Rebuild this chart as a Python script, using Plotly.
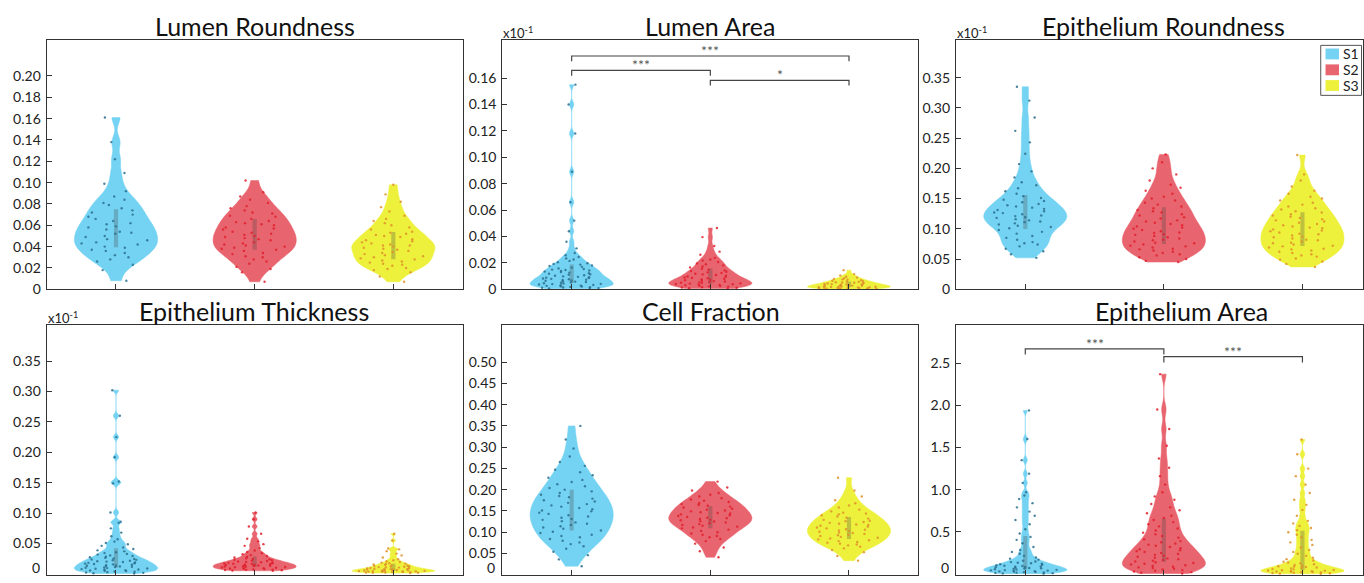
import plotly.graph_objects as go

# ---------------- data ----------------
SERIES = ["S1", "S2", "S3"]
POSITIONS = [1, 2, 3]
FILL_COLORS = ["#74D3F2", "#E8646E", "#EDF13C"]
DOT_COLORS = ["#2C6E8E", "#E01F2C", "#E0902A"]

PANEL_TITLES = ["Lumen Roundness", "Lumen Area", "Epithelium Roundness",
                "Epithelium Thickness", "Cell Fraction", "Epithelium Area"]

# Lumen Roundness
LR_S1 = [0.008, 0.018, 0.023, 0.026, 0.028, 0.030, 0.032, 0.034,
         0.036, 0.037, 0.039, 0.040, 0.042, 0.043, 0.044,
         0.046, 0.047, 0.049, 0.050, 0.052, 0.053, 0.054,
         0.056, 0.058, 0.059, 0.061, 0.062, 0.064,
         0.066, 0.068, 0.070, 0.072, 0.074, 0.076, 0.079, 0.081, 0.084,
         0.087, 0.092, 0.099, 0.109, 0.122, 0.138, 0.161]
LR_S2 = [0.007, 0.016, 0.019, 0.021, 0.024, 0.026, 0.028, 0.030, 0.031, 0.033, 0.034,
         0.036, 0.037, 0.038, 0.039, 0.040, 0.041, 0.042, 0.043, 0.044,
         0.046, 0.047, 0.048, 0.049, 0.050, 0.051, 0.052, 0.053, 0.054,
         0.056, 0.057, 0.058, 0.060, 0.061, 0.062, 0.063, 0.064,
         0.066, 0.068, 0.069, 0.071, 0.072, 0.074,
         0.076, 0.078, 0.081, 0.084, 0.087, 0.091, 0.102]
LR_S3 = [0.007, 0.012, 0.016, 0.018, 0.019, 0.020, 0.022, 0.023, 0.024,
         0.025, 0.026, 0.027, 0.028, 0.029, 0.030, 0.031, 0.032, 0.033, 0.034, 0.035,
         0.036, 0.037, 0.038, 0.039, 0.040, 0.041, 0.041, 0.042, 0.043, 0.044, 0.045,
         0.046, 0.047, 0.049, 0.050, 0.051, 0.052, 0.053, 0.054,
         0.056, 0.058, 0.060, 0.062, 0.064, 0.066, 0.069, 0.073,
         0.077, 0.082, 0.089, 0.098]

# Lumen Area (x10^-1)
LA_S1 = [0.0004, 0.0006, 0.0009, 0.0011, 0.0014, 0.0016, 0.0018, 0.0021, 0.0023, 0.0026,
         0.0028, 0.0031, 0.0033, 0.0036, 0.0039, 0.0041, 0.0044, 0.0046, 0.0049,
         0.0052, 0.0055, 0.0058, 0.0061, 0.0064, 0.0067, 0.0070, 0.0073, 0.0076, 0.0079,
         0.0082, 0.0085, 0.0088, 0.0091, 0.0094, 0.0098,
         0.0102, 0.0106, 0.0110, 0.0114, 0.0118, 0.0122, 0.0126, 0.0130, 0.0134, 0.0138,
         0.0142, 0.0146, 0.0149,
         0.0153, 0.0158, 0.0164, 0.0170, 0.0176, 0.0181, 0.0187, 0.0192, 0.0197,
         0.0205, 0.0215, 0.0225, 0.0234, 0.0244, 0.0258, 0.0275, 0.0310,
         0.036, 0.044, 0.052, 0.066, 0.089, 0.118, 0.140, 0.155]
LA_S2 = [0.0005, 0.0008, 0.0011, 0.0013, 0.0016, 0.0019, 0.0022, 0.0024, 0.0027, 0.0030,
         0.0032, 0.0035, 0.0038, 0.0040, 0.0043, 0.0045, 0.0047, 0.0049,
         0.0052, 0.0055, 0.0059, 0.0062, 0.0065, 0.0068, 0.0072, 0.0075, 0.0079, 0.0083,
         0.0086, 0.0090, 0.0094, 0.0097,
         0.0103, 0.0108, 0.0113, 0.0118, 0.0123, 0.0128, 0.0133, 0.0138, 0.0143, 0.0148,
         0.0156, 0.0165, 0.0173, 0.0181, 0.0189, 0.0196,
         0.0207, 0.0217, 0.0226, 0.0238, 0.0262, 0.0285, 0.0328, 0.0395, 0.0464]
LA_S3 = [0.0003, 0.0004, 0.0005, 0.0006, 0.0007, 0.0008, 0.0009, 0.0010, 0.0011, 0.0012,
         0.0013, 0.0014, 0.0015, 0.0016, 0.0018, 0.0019,
         0.0021, 0.0022, 0.0024, 0.0025, 0.0027, 0.0028, 0.0030, 0.0031, 0.0033, 0.0034,
         0.0036, 0.0037, 0.0039,
         0.0041, 0.0043, 0.0045, 0.0047, 0.0049, 0.0051, 0.0054, 0.0056, 0.0058,
         0.0061, 0.0065, 0.0068, 0.0072, 0.0075, 0.0079,
         0.0083, 0.0089, 0.0095, 0.0104, 0.0115, 0.0145]

# Epithelium Roundness (x10^-1)
ER_S1 = [0.052, 0.058, 0.063, 0.067, 0.071, 0.074, 0.076, 0.078,
         0.082, 0.085, 0.088, 0.092, 0.095, 0.098,
         0.101, 0.103, 0.105, 0.107, 0.109,
         0.111, 0.112, 0.114, 0.116, 0.118, 0.119,
         0.121, 0.122, 0.124, 0.126, 0.127, 0.129,
         0.131, 0.133, 0.135, 0.137, 0.139,
         0.141, 0.144, 0.146, 0.148, 0.151, 0.154, 0.158,
         0.162, 0.167, 0.172, 0.177, 0.185, 0.195,
         0.207, 0.224, 0.243, 0.262, 0.284, 0.312, 0.335]
ER_S2 = [0.045, 0.047, 0.050, 0.053, 0.056, 0.058, 0.060, 0.062, 0.064,
         0.066, 0.067, 0.069, 0.071, 0.072, 0.074,
         0.076, 0.077, 0.079, 0.081, 0.082, 0.084,
         0.086, 0.088, 0.090, 0.091, 0.093, 0.094,
         0.096, 0.098, 0.100, 0.102, 0.104,
         0.106, 0.108, 0.110, 0.112, 0.114,
         0.117, 0.119, 0.122, 0.124, 0.127, 0.129, 0.131, 0.134,
         0.137, 0.140, 0.143, 0.147, 0.150, 0.153,
         0.158, 0.163, 0.168, 0.173, 0.180, 0.190, 0.200, 0.210, 0.223]
ER_S3 = [0.037, 0.042, 0.046, 0.049, 0.051, 0.054,
         0.056, 0.058, 0.060, 0.062, 0.064,
         0.066, 0.067, 0.069, 0.071, 0.072, 0.074,
         0.076, 0.077, 0.079, 0.081, 0.082, 0.084,
         0.086, 0.087, 0.089, 0.091, 0.092, 0.094,
         0.096, 0.097, 0.099, 0.101, 0.102, 0.104,
         0.106, 0.108, 0.110, 0.112, 0.114,
         0.116, 0.118, 0.120, 0.122, 0.124,
         0.127, 0.129, 0.132, 0.134, 0.137, 0.140, 0.143,
         0.147, 0.150, 0.153, 0.158, 0.163, 0.170, 0.180, 0.190, 0.222]

# Epithelium Thickness (x10^-1)
ET_S1 = [0.0008, 0.0012, 0.0018, 0.0024, 0.0030, 0.0036, 0.0041, 0.0047,
         0.0052, 0.0058, 0.0063, 0.0069, 0.0074, 0.0080, 0.0085, 0.0091, 0.0096,
         0.0102, 0.0107, 0.0113, 0.0118, 0.0124, 0.0129, 0.0135, 0.0140, 0.0146,
         0.0152, 0.0158, 0.0164, 0.0170, 0.0177, 0.0183, 0.0190, 0.0196,
         0.0203, 0.0210, 0.0218, 0.0225, 0.0232, 0.0239, 0.0246,
         0.0255, 0.0265, 0.0275, 0.0285, 0.0295,
         0.0305, 0.0318, 0.0330, 0.0343, 0.0358, 0.0372, 0.0388,
         0.0410, 0.0435, 0.0462, 0.0488, 0.0508, 0.0532,
         0.0570, 0.0620, 0.0680, 0.0750, 0.0840, 0.0860,
         0.101, 0.149, 0.152, 0.192, 0.225, 0.260, 0.302]
ET_S2 = [0.0052, 0.0056, 0.0060, 0.0064, 0.0068, 0.0072, 0.0076, 0.0080, 0.0084, 0.0089, 0.0094,
         0.0100, 0.0103, 0.0107, 0.0111, 0.0115, 0.0119, 0.0123, 0.0127, 0.0131, 0.0135,
         0.0139, 0.0143, 0.0147,
         0.0152, 0.0156, 0.0160, 0.0164, 0.0168, 0.0173, 0.0178, 0.0183, 0.0188, 0.0193, 0.0198,
         0.0205, 0.0212, 0.0219, 0.0226, 0.0233, 0.0240, 0.0247,
         0.0258, 0.0270, 0.0282, 0.0295, 0.0310, 0.0325, 0.0342, 0.0362, 0.0385,
         0.0425, 0.0462, 0.0490, 0.0535, 0.0580, 0.0660, 0.0780, 0.0900, 0.1010]
ET_S3 = [0.0015, 0.0018, 0.0020, 0.0023, 0.0025, 0.0028, 0.0031, 0.0034, 0.0036, 0.0039,
         0.0041, 0.0043, 0.0045, 0.0047, 0.0049, 0.0051, 0.0054, 0.0056, 0.0058, 0.0061, 0.0063,
         0.0066, 0.0069, 0.0072, 0.0074, 0.0077, 0.0080, 0.0083, 0.0086, 0.0089,
         0.0093, 0.0097, 0.0101, 0.0105, 0.0109, 0.0113,
         0.0118, 0.0123, 0.0128, 0.0133, 0.0138,
         0.0144, 0.0150, 0.0157, 0.0163, 0.0170, 0.0178, 0.0186,
         0.0197, 0.0210, 0.0225, 0.0242, 0.0270, 0.0305, 0.0335,
         0.0375, 0.0405, 0.0420, 0.0550, 0.0660]

# Cell Fraction
CF_S1 = [0.020, 0.036, 0.046, 0.054, 0.061, 0.067,
         0.072, 0.076, 0.080, 0.084, 0.088,
         0.091, 0.094, 0.098, 0.101, 0.104, 0.108,
         0.111, 0.114, 0.117, 0.120, 0.123, 0.126, 0.129,
         0.131, 0.134, 0.137, 0.140, 0.143, 0.146, 0.149,
         0.151, 0.154, 0.157, 0.160, 0.163, 0.166, 0.169,
         0.172, 0.175, 0.179, 0.182, 0.185, 0.188,
         0.192, 0.196, 0.200, 0.204, 0.208,
         0.213, 0.218, 0.223, 0.228, 0.234, 0.241, 0.247,
         0.256, 0.265, 0.278, 0.297, 0.318, 0.350]
CF_S2 = [0.041, 0.055, 0.064, 0.073, 0.079, 0.084, 0.088,
         0.091, 0.094, 0.097, 0.100, 0.103, 0.106, 0.109,
         0.111, 0.113, 0.115, 0.117, 0.119, 0.121, 0.123, 0.125, 0.126, 0.128, 0.129,
         0.131, 0.133, 0.134, 0.136, 0.138, 0.140, 0.142, 0.144, 0.145, 0.147, 0.149,
         0.151, 0.153, 0.155, 0.158, 0.160, 0.162, 0.164, 0.166, 0.168,
         0.171, 0.174, 0.177, 0.180, 0.184, 0.188, 0.192, 0.198, 0.205, 0.219]
CF_S3 = [0.033, 0.044, 0.053, 0.058, 0.062, 0.066, 0.069,
         0.071, 0.073, 0.075, 0.077, 0.079, 0.081, 0.083, 0.085, 0.087, 0.089,
         0.091, 0.093, 0.094, 0.096, 0.098, 0.099, 0.101, 0.103, 0.104, 0.106, 0.107, 0.109,
         0.111, 0.113, 0.115, 0.117, 0.118, 0.120, 0.122, 0.124, 0.126, 0.127, 0.129,
         0.132, 0.134, 0.137, 0.140, 0.142, 0.144, 0.146, 0.149,
         0.153, 0.158, 0.163, 0.168, 0.175, 0.184, 0.198, 0.228]

# Epithelium Area
EA_S1 = [0.004, 0.007, 0.010, 0.013, 0.016, 0.019, 0.022, 0.025, 0.028, 0.031,
         0.034, 0.037, 0.040, 0.043, 0.046, 0.049,
         0.053, 0.057, 0.060, 0.064, 0.068, 0.071, 0.075, 0.079, 0.082, 0.086,
         0.090, 0.094, 0.098,
         0.104, 0.110, 0.116, 0.122, 0.128, 0.134, 0.141, 0.148,
         0.158, 0.170, 0.182, 0.195, 0.215, 0.240, 0.262, 0.285,
         0.320, 0.365, 0.405, 0.440, 0.480,
         0.530, 0.590, 0.640, 0.690, 0.740, 0.790,
         0.840, 0.890, 0.930, 0.970, 1.080, 1.190, 1.350, 1.600, 1.940]
EA_S2 = [0.006, 0.014, 0.022, 0.030, 0.038, 0.046, 0.054, 0.062, 0.070, 0.078, 0.086, 0.094,
         0.104, 0.113, 0.122, 0.131, 0.140, 0.149, 0.158, 0.167, 0.176, 0.185, 0.194,
         0.205, 0.216, 0.227, 0.238, 0.249, 0.260, 0.271, 0.282, 0.293,
         0.306, 0.320, 0.334, 0.348, 0.362, 0.376, 0.390,
         0.410, 0.430, 0.450, 0.470, 0.490,
         0.515, 0.540, 0.565, 0.590, 0.615, 0.640, 0.665, 0.690,
         0.720, 0.755, 0.790, 0.830, 0.880, 0.920, 0.970,
         1.060, 1.160, 1.260, 1.370, 1.520, 1.720, 1.950, 2.370]
EA_S3 = [0.003, 0.006, 0.009, 0.012, 0.015, 0.018, 0.021, 0.024, 0.027, 0.030,
         0.033, 0.036, 0.039, 0.042, 0.045, 0.048,
         0.055, 0.060, 0.066, 0.071, 0.077, 0.082, 0.087, 0.092, 0.097,
         0.106, 0.116, 0.126, 0.136, 0.145, 0.160, 0.176, 0.192,
         0.215, 0.240, 0.262, 0.285,
         0.315, 0.345, 0.375, 0.405, 0.435,
         0.465, 0.495, 0.520, 0.545, 0.570, 0.600, 0.630,
         0.690, 0.760, 0.820, 0.880, 0.960, 1.060, 1.160, 1.250, 1.420, 1.595]

# KDE bandwidths per violin (S1, S2, S3)
LR_BW = [0.006, 0.006, 0.005]
LA_BW = [0.0022, 0.0025, 0.0012]
ER_BW = [0.011, 0.011, 0.010]
ET_BW = [0.0035, 0.0028, 0.0018]
CF_BW = [0.018, 0.012, 0.012]
EA_BW = [0.03, 0.07, 0.03]

# y-axis ticks (the zero of the bottom row is labelled separately, lifted into view)
LR_TICKS = [0, 0.02, 0.04, 0.06, 0.08, 0.10, 0.12, 0.14, 0.16, 0.18, 0.20]
LR_LABELS = ["0", "0.02", "0.04", "0.06", "0.08", "0.10", "0.12", "0.14", "0.16", "0.18", "0.20"]
LA_TICKS = [0, 0.02, 0.04, 0.06, 0.08, 0.10, 0.12, 0.14, 0.16]
LA_LABELS = ["0", "0.02", "0.04", "0.06", "0.08", "0.10", "0.12", "0.14", "0.16"]
ER_TICKS = [0, 0.05, 0.10, 0.15, 0.20, 0.25, 0.30, 0.35]
ER_LABELS = ["0", "0.05", "0.10", "0.15", "0.20", "0.25", "0.30", "0.35"]
ET_TICKS = [0.05, 0.10, 0.15, 0.20, 0.25, 0.30, 0.35]
ET_LABELS = ["0.05", "0.10", "0.15", "0.20", "0.25", "0.30", "0.35"]
CF_TICKS = [0.05, 0.10, 0.15, 0.20, 0.25, 0.30, 0.35, 0.40, 0.45, 0.50]
CF_LABELS = ["0.05", "0.10", "0.15", "0.20", "0.25", "0.30", "0.35", "0.40", "0.45", "0.50"]
EA_TICKS = [0.5, 1.0, 1.5, 2.0, 2.5]
EA_LABELS = ["0.5", "1.0", "1.5", "2.0", "2.5"]
ZERO_LABEL = "0"

Y_RANGES = [[0, 0.2336], [0, 0.1887], [0, 0.412],
            [-0.0017, 0.4085], [-0.0007, 0.5862], [-0.012, 2.947]]
EXPONENT_PANELS = [1, 2, 3]  # panels carrying the "x10^-1" multiplier

# significance brackets: (from, to, level, label)
LA_BRACKETS = [(1, 3, 0.1767, "***"), (1, 2, 0.1658, "***"), (2, 3, 0.1583, "*")]
EA_BRACKETS = [(1, 2, 2.670, "***"), (2, 3, 2.577, "***")]
BRACKET_TIPS = [0.0040, 0.068]

# ---------------- layout geometry (pixels) ----------------
W, H = 1364, 583
COL_PX = [(46.7, 463.0), (502.7, 919.0), (956.7, 1364.0)]
ROW_PX = [(40.7, 293.3), (330.0, 583.0)]
X_RANGES = [[0.5, 3.5], [0.5, 3.5], [0.5, 3.437]]
TITLE_X_PX = [254.8, 710.8, 1164.7, 254.5, 711.3, 1182.0]
TITLE_Y_PX = [26.0, 315.5]

FONT = "Lato, 'Noto Sans', sans-serif"

panels = [
    (LR_S1, LR_S2, LR_S3, LR_BW, LR_TICKS, LR_LABELS),
    (LA_S1, LA_S2, LA_S3, LA_BW, LA_TICKS, LA_LABELS),
    (ER_S1, ER_S2, ER_S3, ER_BW, ER_TICKS, ER_LABELS),
    (ET_S1, ET_S2, ET_S3, ET_BW, ET_TICKS, ET_LABELS),
    (CF_S1, CF_S2, CF_S3, CF_BW, CF_TICKS, CF_LABELS),
    (EA_S1, EA_S2, EA_S3, EA_BW, EA_TICKS, EA_LABELS),
]


def px_x(p):
    return p / W


def px_y(p):
    return 1 - p / H


fig = go.Figure()
layout = dict(width=W, height=H, margin=dict(l=0, r=0, t=0, b=0),
              paper_bgcolor="white", plot_bgcolor="white",
              showlegend=False, violinmode="overlay",
              font=dict(family=FONT, color="#222"))
annotations = []
shapes = []

for i, (s1, s2, s3, bws, tv, tt) in enumerate(panels):
    r, c = divmod(i, 3)
    sfx = "" if i == 0 else str(i + 1)
    xa, ya = "x" + sfx, "y" + sfx
    for k, samples in enumerate((s1, s2, s3)):
        fig.add_trace(go.Violin(
            x0=POSITIONS[k], y=samples, name=SERIES[k], xaxis=xa, yaxis=ya,
            scalegroup=f"p{i}s{k}",
            width=0.6, spanmode="hard", bandwidth=bws[k], scalemode="width",
            fillcolor=FILL_COLORS[k], line=dict(color=FILL_COLORS[k], width=0.5),
            points="all", jitter=0.85, pointpos=0,
            marker=dict(size=2.4, color=DOT_COLORS[k], opacity=0.85, line=dict(width=0)),
            box=dict(visible=True, width=0.05, fillcolor="rgba(70,70,70,0.28)",
                     line=dict(width=0)),
            meanline=dict(visible=False), hoverinfo="y", showlegend=False))
    x0, x1 = COL_PX[c]
    y0, y1 = ROW_PX[r]
    axis_common = dict(showline=True, linecolor="#333", linewidth=1.2, mirror=True,
                       ticks="inside", ticklen=5, tickcolor="#333", tickwidth=1,
                       showgrid=False, zeroline=False)
    layout["xaxis" + sfx] = dict(domain=[px_x(x0), px_x(x1)], range=X_RANGES[c],
                                 anchor=ya, tickvals=POSITIONS, showticklabels=False,
                                 **axis_common)
    layout["yaxis" + sfx] = dict(domain=[px_y(y1), px_y(y0)], range=Y_RANGES[i],
                                 anchor=xa, tickvals=tv, ticktext=tt,
                                 tickfont=dict(family=FONT, size=14, color="#222"),
                                 ticklabelstandoff=2, **axis_common)
    # panel title
    annotations.append(dict(text=PANEL_TITLES[i], xref="paper", yref="paper",
                            x=px_x(TITLE_X_PX[i]), y=px_y(TITLE_Y_PX[r]),
                            xanchor="center", yanchor="middle", showarrow=False,
                            font=dict(family=FONT, size=25, color="#111")))
    if i in EXPONENT_PANELS:
        annotations.append(dict(text="x10<sup>-1</sup>", xref="paper", yref="paper",
                                x=px_x(x0 - 1), y=px_y(y0 - 8), xanchor="left",
                                yanchor="middle", showarrow=False,
                                font=dict(family=FONT, size=13, color="#222")))
    if r == 1:
        # zero label lifted inside the visible area (as in the reference)
        annotations.append(dict(text=ZERO_LABEL, xref="paper", yref="paper",
                                x=px_x(x0 - 5), y=px_y(575.5), xanchor="right",
                                yanchor="middle", showarrow=False,
                                font=dict(family=FONT, size=14, color="#222")))

# significance brackets
for (brackets, tip, sfx) in ((LA_BRACKETS, BRACKET_TIPS[0], "2"),
                             (EA_BRACKETS, BRACKET_TIPS[1], "6")):
    for (a, b, lvl, lab) in brackets:
        shapes.append(dict(type="path", xref="x" + sfx, yref="y" + sfx,
                           path=f"M {a},{lvl - tip} L {a},{lvl} L {b},{lvl} L {b},{lvl - tip}",
                           line=dict(color="#444", width=1.2)))
        annotations.append(dict(text=lab, xref="x" + sfx, yref="y" + sfx,
                                x=(a + b) / 2, y=lvl, xanchor="center", yanchor="bottom",
                                yshift=-5, showarrow=False,
                                font=dict(family=FONT, size=14, color="#555")))

# legend box (in the Epithelium Roundness panel)
LEG_X0, LEG_Y0, LEG_Y1 = 1321.7, 46.0, 96.7
LEG_ROWS = [54.7, 70.8, 86.7]
shapes.append(dict(type="rect", xref="paper", yref="paper",
                   x0=px_x(LEG_X0), x1=px_x(W - 1.5), y0=px_y(LEG_Y1), y1=px_y(LEG_Y0),
                   line=dict(color="#555", width=1), fillcolor="white"))
for k, name in enumerate(SERIES):
    cy = LEG_ROWS[k]
    shapes.append(dict(type="rect", xref="paper", yref="paper",
                       x0=px_x(1326.5), x1=px_x(1340.0), y0=px_y(cy + 5.5), y1=px_y(cy - 5.5),
                       line=dict(width=0), fillcolor=FILL_COLORS[k]))
    annotations.append(dict(text=name, xref="paper", yref="paper",
                            x=px_x(1341.5), y=px_y(cy), xanchor="left", yanchor="middle",
                            showarrow=False, font=dict(family=FONT, size=14, color="#222")))

layout["annotations"] = annotations
layout["shapes"] = shapes
fig.update_layout(**layout)
fig.write_html("out.html", config={"displayModeBar": False},
               post_script="document.body.style.margin='0px';"
                           "document.body.style.overflow='hidden';")
